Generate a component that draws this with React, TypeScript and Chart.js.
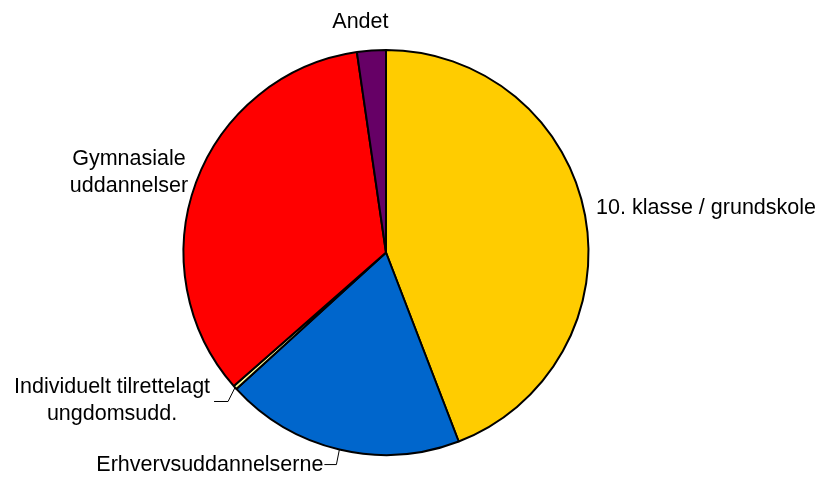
import React, { useEffect, useRef } from "react";
import { Chart, registerables } from "chart.js";

Chart.register(...registerables);

const categories = [
  "10. klasse / grundskole",
  "Erhvervsuddannelserne",
  "Individuelt tilrettelagt ungdomsudd.",
  "Gymnasiale uddannelser",
  "Andet",
];
const values = [44.2, 19.1, 0.3, 34.2, 2.3];
const colors = ["#FFCC00", "#0066CC", "#FFFF99", "#FF0000", "#660066"];
const labelLines = [
  ["10. klasse / grundskole"],
  ["Erhvervsuddannelserne"],
  ["Individuelt tilrettelagt", "ungdomsudd."],
  ["Gymnasiale", "uddannelser"],
  ["Andet"],
];

// label placement relative to the slice's mid-angle point on the rim
const labelLayout = [
  { dx: 11, dy: -7, align: "left", leader: null },
  { dx: -16, dy: 16, align: "right", leader: [[-3, 15], [-15, 15]] },
  { dx: -123, dy: 0, align: "center", leader: [[-7, 14], [-21, 14]] },
  { dx: -67, dy: -23, align: "center", leader: null },
  { dx: -11, dy: -28, align: "center", leader: null },
];

const labelPlugin = {
  id: "pieLabels",
  afterDatasetsDraw(chart: any) {
    const ctx = chart.ctx;
    const meta = chart.getDatasetMeta(0);
    ctx.save();
    ctx.font = "21.5px 'Liberation Sans', Arial, sans-serif";
    ctx.fillStyle = "#000";
    ctx.strokeStyle = "#000";
    ctx.lineWidth = 1;
    ctx.textBaseline = "middle";
    meta.data.forEach((arc: any, i: number) => {
      const mid = (arc.startAngle + arc.endAngle) / 2;
      const px = arc.x + Math.cos(mid) * arc.outerRadius;
      const py = arc.y + Math.sin(mid) * arc.outerRadius;
      const lay = labelLayout[i];
      if (lay.leader) {
        ctx.beginPath();
        ctx.moveTo(px, py);
        lay.leader.forEach(([lx, ly]) => ctx.lineTo(px + lx, py + ly));
        ctx.stroke();
      }
      const lines = labelLines[i];
      const lh = 26.5;
      ctx.textAlign = lay.align;
      const startY = py + lay.dy;
      lines.forEach((t, k) => {
        ctx.fillText(t, px + lay.dx, startY + k * lh);
      });
    });
    ctx.restore();
  },
};

export default function App() {
  const ref = useRef<HTMLCanvasElement>(null);
  useEffect(() => {
    if (!ref.current) return;
    const chart = new Chart(ref.current, {
      type: "pie",
      data: {
        labels: categories,
        datasets: [
          {
            data: values,
            backgroundColor: colors,
            borderColor: "#000",
            borderWidth: 2,
          },
        ],
      },
      options: {
        responsive: false,
        animation: false,
        layout: { padding: { top: 49, bottom: 21, left: 100, right: 152 } },
        plugins: {
          legend: { display: false },
          tooltip: { enabled: false },
        },
      },
      plugins: [labelPlugin],
    });
    return () => chart.destroy();
  }, []);
  return (
    <div style={{ position: "absolute", left: 0, top: 0, width: 824, height: 477, background: "#fff" }}>
      <canvas ref={ref} width={824} height={477} />
    </div>
  );
}
